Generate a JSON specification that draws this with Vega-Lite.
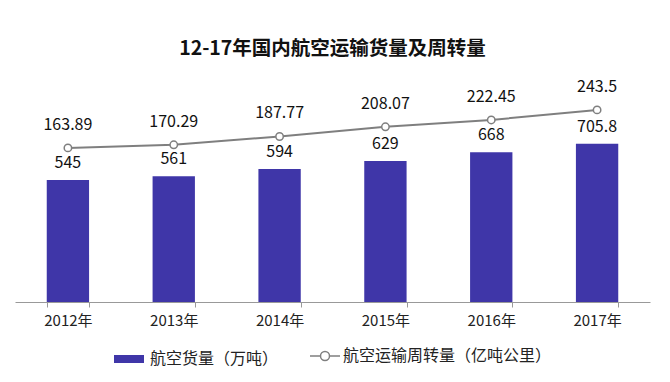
{
  "$schema": "https://vega.github.io/schema/vega-lite/v6.json",
  "width": 635,
  "height": 242,
  "autosize": "none",
  "padding": {"left": 15, "top": 60, "right": 20, "bottom": 80},
  "background": "white",
  "config": {"view": {"stroke": null}, "font": "Noto Sans CJK SC"},
  "title": {"text": "12-17年国内航空运输货量及周转量", "fontSize": 19.5, "fontWeight": "bold", "font": "Noto Sans CJK SC", "color": "#111111", "offset": 1, "anchor": "middle"},
  "data": {"values": [
    {"year": "2012年", "cargo": 545, "turnover": 163.89},
    {"year": "2013年", "cargo": 561, "turnover": 170.29},
    {"year": "2014年", "cargo": 594, "turnover": 187.77},
    {"year": "2015年", "cargo": 629, "turnover": 208.07},
    {"year": "2016年", "cargo": 668, "turnover": 222.45},
    {"year": "2017年", "cargo": 705.8, "turnover": 243.5}
  ]},
  "encoding": {
    "x": {"field": "year", "type": "nominal", "sort": null,
      "scale": {"paddingInner": 0.6, "paddingOuter": 0.3},
      "axis": {"title": null, "labelAngle": 0, "labelFontSize": 15, "labelColor": "#222222", "labelPadding": 6, "domainColor": "#999999", "tickColor": "#999999", "tickSize": 5, "tickBand": "extent", "labelFont": "Noto Sans CJK SC"}}
  },
  "layer": [
    {
      "mark": {"type": "bar"},
      "encoding": {
        "y": {"field": "cargo", "type": "quantitative", "scale": {"domain": [0, 1080]}, "axis": null},
        "fill": {"datum": "航空货量（万吨）", "type": "nominal", "scale": {"range": ["#3F36A8"]},
          "legend": {"title": null, "orient": "none", "legendX": 95, "legendY": 280, "symbolType": "stroke", "symbolSize": 900, "symbolStrokeWidth": 8, "symbolStrokeColor": "#3F36A8", "labelFontSize": 16, "labelColor": "#222222", "labelOffset": 2, "labelLimit": 400}}
      }
    },
    {
      "mark": {"type": "text", "dy": -17, "fontSize": 16, "color": "#111111", "font": "Noto Sans CJK SC"},
      "encoding": {
        "y": {"field": "cargo", "type": "quantitative", "scale": {"domain": [0, 1080]}, "axis": null},
        "text": {"field": "cargo", "type": "quantitative"}
      }
    },
    {
      "mark": {"type": "line", "strokeWidth": 2},
      "encoding": {
        "y": {"field": "turnover", "type": "quantitative", "scale": {"domain": [-159, 348], "zero": false}, "axis": null},
        "stroke": {"datum": "航空运输周转量（亿吨公里）", "type": "nominal", "scale": {"range": ["#7f7f7f"]},
          "legend": {"title": null, "orient": "none", "legendX": 294, "legendY": 280, "symbolType": "M-1,0H-0.3M0.3,0H1M-0.3,0A0.3,0.3 0 1,0 0.3,0A0.3,0.3 0 1,0 -0.3,0", "symbolSize": 900, "symbolStrokeWidth": 1.5, "symbolFillColor": "white", "labelFontSize": 16, "labelColor": "#222222", "labelOffset": 2, "labelLimit": 400}}
      }
    },
    {
      "mark": {"type": "point", "filled": true, "fill": "white", "stroke": "#7f7f7f", "strokeWidth": 1.5, "size": 55, "opacity": 1},
      "encoding": {
        "y": {"field": "turnover", "type": "quantitative", "scale": {"domain": [-159, 348], "zero": false}, "axis": null}
      }
    },
    {
      "mark": {"type": "text", "dy": -23, "fontSize": 16, "color": "#111111", "font": "Noto Sans CJK SC"},
      "encoding": {
        "y": {"field": "turnover", "type": "quantitative", "scale": {"domain": [-159, 348], "zero": false}, "axis": null},
        "text": {"field": "turnover", "type": "quantitative"}
      }
    }
  ],
  "resolve": {"scale": {"y": "independent"}}
}
